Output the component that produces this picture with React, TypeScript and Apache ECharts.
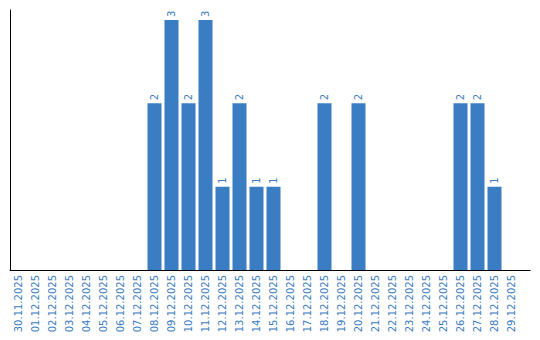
import React, { useEffect, useRef } from "react";
import * as echarts from "echarts";

const categories = [
  "30.11.2025", "01.12.2025", "02.12.2025", "03.12.2025", "04.12.2025",
  "05.12.2025", "06.12.2025", "07.12.2025", "08.12.2025", "09.12.2025",
  "10.12.2025", "11.12.2025", "12.12.2025", "13.12.2025", "14.12.2025",
  "15.12.2025", "16.12.2025", "17.12.2025", "18.12.2025", "19.12.2025",
  "20.12.2025", "21.12.2025", "22.12.2025", "23.12.2025", "24.12.2025",
  "25.12.2025", "26.12.2025", "27.12.2025", "28.12.2025", "29.12.2025",
];

const counts = [
  0, 0, 0, 0, 0,
  0, 0, 0, 2, 3,
  2, 3, 1, 2, 1,
  1, 0, 0, 2, 0,
  2, 0, 0, 0, 0,
  0, 2, 2, 1, 0,
];

const yMax = 3.12;

export default function App() {
  const ref = useRef<HTMLDivElement>(null);
  useEffect(() => {
    if (!ref.current) return;
    const chart = echarts.init(ref.current, undefined, { renderer: "svg" });
    const blue = "#3b7dc2";
    chart.setOption({
      animation: false,
      grid: { left: 10, right: 20, top: 10, bottom: 70 },
      xAxis: {
        type: "category",
        data: categories,
        axisLine: { show: true, lineStyle: { color: "#000", width: 1 } },
        axisTick: { show: false },
        axisLabel: {
          rotate: 90,
          interval: 0,
          color: "#3a7bbf",
          fontFamily: "DejaVu Sans",
          fontSize: 10,
          margin: 5,
        },
      },
      yAxis: {
        type: "value",
        min: 0,
        max: yMax,
        axisLine: { show: true, lineStyle: { color: "#000", width: 1 } },
        axisTick: { show: false },
        axisLabel: { show: false },
        splitLine: { show: false },
      },
      graphic: [
        {
          type: "line",
          shape: { x1: 520, y1: 270.5, x2: 530.5, y2: 270.5 },
          style: { stroke: "#000", lineWidth: 1 },
        },
      ],
      series: [
        {
          type: "bar",
          data: counts.map((v) => (v === 0 ? null : v)),
          barWidth: 14,
          itemStyle: { color: blue },
          label: {
            show: true,
            position: "top",
            rotate: 90,
            align: "left",
            verticalAlign: "middle",
            distance: 3,
            color: blue,
            fontFamily: "DejaVu Sans",
            fontSize: 10,
          },
        },
      ],
    });
    return () => chart.dispose();
  }, []);
  return <div ref={ref} style={{ width: 540, height: 340, margin: -8 }} />;
}
